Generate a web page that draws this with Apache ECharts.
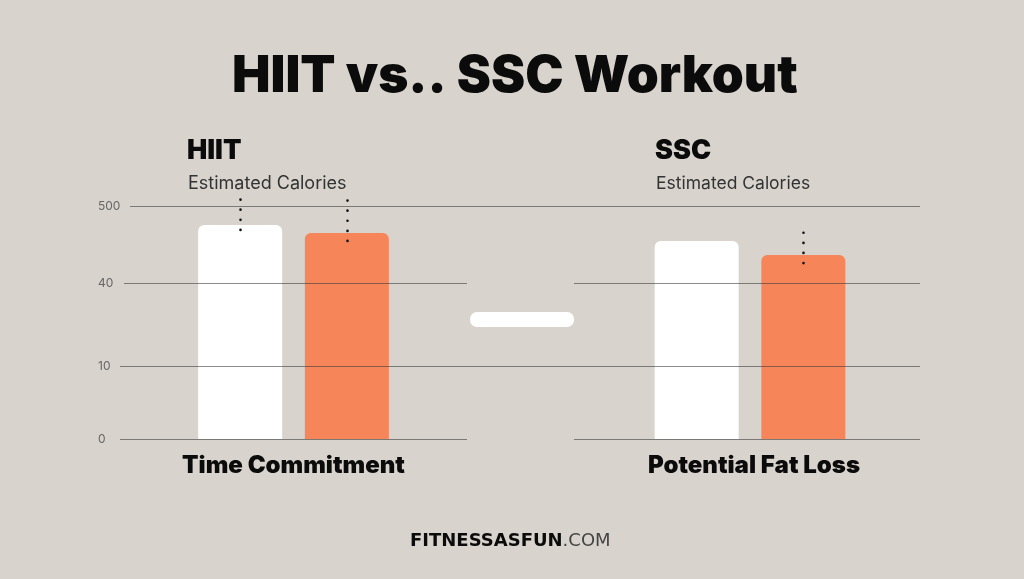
<!DOCTYPE html>
<html>
<head>
<meta charset="utf-8">
<style>
  html, body { margin: 0; padding: 0; background: #d8d4cd; }
  #main { width: 1024px; height: 579px; }
</style>
<script src="https://cdn.jsdelivr.net/npm/echarts@6/dist/echarts.min.js"></script>
</head>
<body>
<div id="main"></div>
<script>
// data
var tickValues = [0, 10, 40, 500];
var groupNames = ['Time Commitment', 'Potential Fat Loss'];
var panelNames = ['HIIT', 'SSC'];
var whiteValues = [386, 291];
var orangeValues = [339, 207];
var whiteDots = [[357, 548], null];
var orangeDots = [[291, 542], [159, 345]];

// the axis labels are not evenly spaced, so the axis runs on a piecewise scale
var tickStops = [0, 73, 156, 233];
function toAxis(v) {
    var i = 0;
    while (i < tickValues.length - 2 && v > tickValues[i + 1]) i++;
    var t = (v - tickValues[i]) / (tickValues[i + 1] - tickValues[i]);
    return tickStops[i] + t * (tickStops[i + 1] - tickStops[i]);
}

var INK = '#0b0b0b';
var FONT = 'Inter, Roboto, sans-serif';
var RULE = 'rgba(60,60,60,0.6)';

function dots(range) {
    if (!range) return undefined;
    return {
        silent: true,
        symbol: 'none',
        label: { show: false },
        lineStyle: { color: '#111', type: [0.1, 10], width: 2.6, cap: 'round', opacity: 1 },
        data: [[{ xAxis: 0, yAxis: toAxis(range[0]) }, { xAxis: 0, yAxis: toAxis(range[1]) }]]
    };
}

function barSeries(name, i, color, values, dotRanges) {
    return {
        name: name,
        type: 'bar',
        xAxisIndex: i,
        yAxisIndex: i,
        barWidth: 84,
        barGap: '27%',
        itemStyle: { color: color, borderRadius: [6, 6, 0, 0] },
        data: [toAxis(values[i])],
        markLine: dots(dotRanges[i])
    };
}

function xAxis(i) {
    return {
        type: 'category',
        gridIndex: i,
        data: [groupNames[i]],
        axisLine: { show: false },
        axisTick: { show: false },
        axisLabel: {
            color: INK, fontFamily: FONT, fontWeight: 900, fontSize: 24, margin: 15, interval: 0,
            padding: [0, 0, 0, i === 1 ? 8 : 0]
        }
    };
}

function yAxis(i) {
    return {
        type: 'value',
        gridIndex: i,
        min: 0,
        max: 243,
        axisLine: { show: false },
        axisTick: { show: false },
        splitLine: { show: false },
        axisLabel: {
            show: i === 0,
            customValues: tickStops,
            color: '#666',
            fontFamily: FONT,
            fontSize: 12,
            align: 'left',
            margin: 22,
            formatter: function (v) { return String(tickValues[tickStops.indexOf(v)]); }
        }
    };
}

function head(text, left, top, size, weight, color) {
    return {
        text: text,
        left: left,
        top: top,
        padding: 0,
        textStyle: { color: color, fontFamily: FONT, fontSize: size, fontWeight: weight }
    };
}

var myChart = echarts.init(document.getElementById('main'));
var option = {
    animation: false,
    backgroundColor: '#d8d4cd',
    title: [
        { text: 'HIIT vs.. SSC Workout', left: 232, top: 51, padding: 0,
          textStyle: { color: INK, fontFamily: FONT, fontSize: 51.3, fontWeight: 900 } },
        head(panelNames[0], 187, 137, 27, 900, INK),
        head('Estimated Calories', 188, 175, 18, 400, '#333'),
        head(panelNames[1], 655, 137, 27, 900, INK),
        head('Estimated Calories', 656, 175, 17.5, 400, '#333'),
        { text: '{b|FITNESSASFUN}{l|.COM}', left: 410, top: 532, padding: 0,
          textStyle: { rich: {
              b: { color: INK, fontFamily: 'DejaVu Sans', fontSize: 18, fontWeight: 700 },
              l: { color: '#444', fontFamily: 'DejaVu Sans', fontSize: 18, fontWeight: 400 }
          } } }
    ],
    grid: [
        { left: 120, width: 347, top: 196, height: 243 },
        { left: 574, width: 352, top: 196, height: 243 }
    ],
    xAxis: [xAxis(0), xAxis(1)],
    yAxis: [yAxis(0), yAxis(1)],
    series: [
        barSeries('White', 0, '#ffffff', whiteValues, whiteDots),
        barSeries('Orange', 0, '#f6855a', orangeValues, orangeDots),
        barSeries('White', 1, '#ffffff', whiteValues, whiteDots),
        barSeries('Orange', 1, '#f6855a', orangeValues, orangeDots)
    ]
};
myChart.setOption(option);

// rules have different extents per tick, y comes from the axis
var ruleSpans = [
    [[120, 467], [574, 920]],
    [[120, 920]],
    [[124, 467], [574, 920]],
    [[130, 920]]
];
var graphics = [{
    type: 'rect',
    z: 5,
    shape: { x: 470, y: 312, width: 104, height: 15, r: 7 },
    style: { fill: '#fff' }
}];
tickStops.forEach(function (stop, i) {
    var y = Math.round(myChart.convertToPixel({ yAxisIndex: 0 }, stop)) + 0.5;
    ruleSpans[i].forEach(function (s) {
        graphics.push({
            type: 'line',
            z: 10,
            silent: true,
            shape: { x1: s[0], y1: y, x2: s[1], y2: y },
            style: { stroke: RULE, lineWidth: 1 }
        });
    });
});
myChart.setOption({ graphic: graphics });
</script>
</body>
</html>
